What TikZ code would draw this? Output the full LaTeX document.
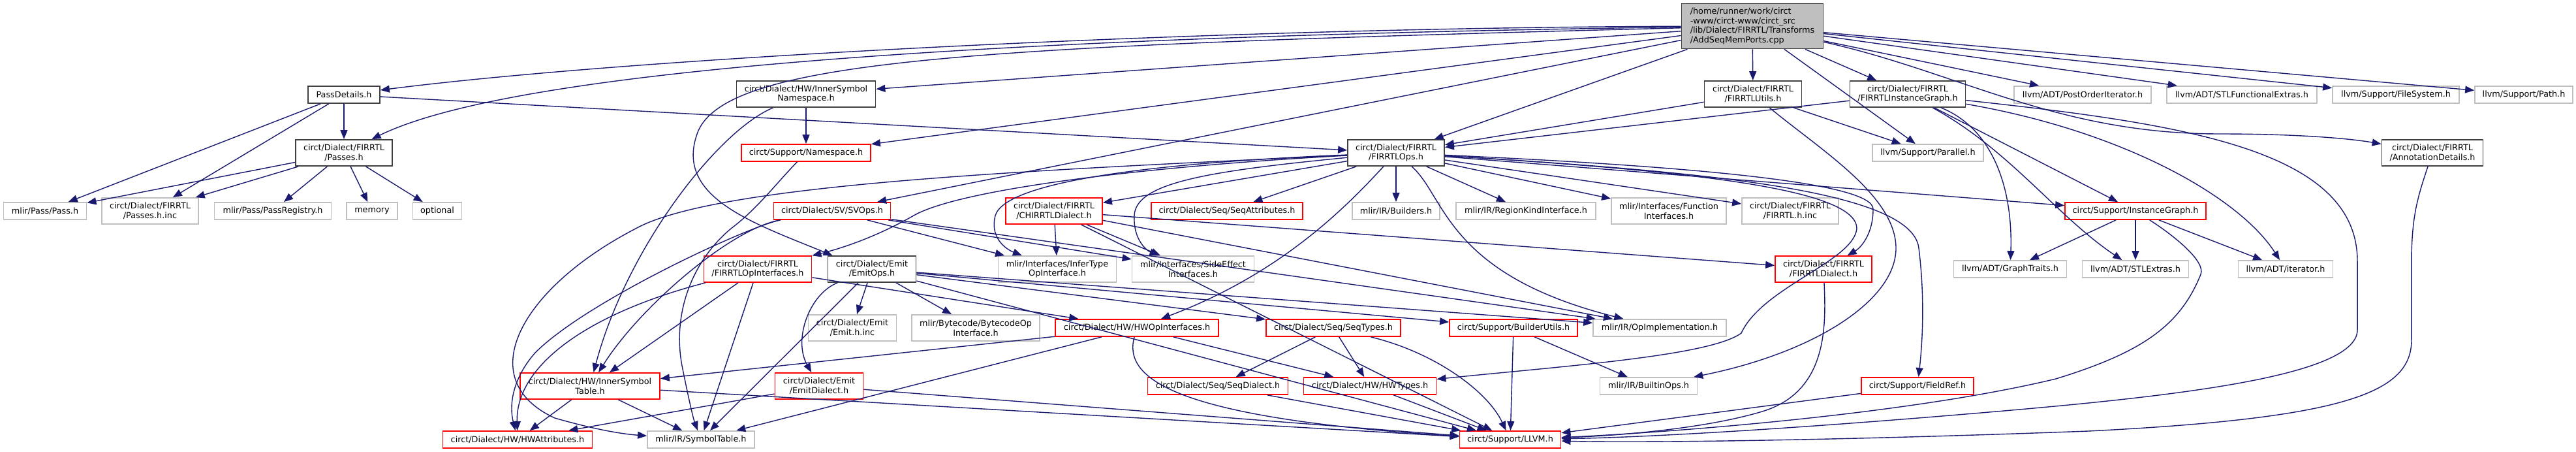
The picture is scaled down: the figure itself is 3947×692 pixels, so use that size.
\documentclass[tikz,border=0pt]{standalone}
\usepackage{fontspec}
\setmainfont{DejaVu Sans}
\usetikzlibrary{arrows.meta}
\definecolor{edgec}{RGB}{25,25,112}
\definecolor{redc}{RGB}{255,0,0}
\definecolor{grayc}{RGB}{191,191,191}
\definecolor{darkc}{RGB}{64,64,64}
\begin{document}
\begin{tikzpicture}[x=1pt,y=-1pt,
  box/.style={rectangle, line width=1.8pt, inner sep=0pt, align=center, font=\fontsize{12.8}{14.7}\selectfont, minimum height=26pt},
  two/.style={minimum height=40pt},
  doc/.style={box, draw=darkc},
  inc/.style={box, draw=redc},
  ext/.style={box, draw=grayc},
  dep/.style={draw=edgec, line width=1.4pt, -{Triangle[length=14pt,width=11pt]}}]
\useasboundingbox (0,0) rectangle (3947,692);
% row 1
\node[box, draw=darkc, fill=grayc, minimum width=217pt, minimum height=69pt, align=left] (top) at (2685,40) {/home/runner/work/circt\\-www/circt-www/circt\_src\\/lib/Dialect/FIRRTL/Transforms\\/AddSeqMemPorts.cpp};
% row 2
\node[doc, minimum width=110pt] (pd) at (527,145) {PassDetails.h};
\node[doc, two, minimum width=213pt] (isn) at (1235,144) {circt/Dialect/HW/InnerSymbol\\Namespace.h};
\node[doc, two, minimum width=149pt] (utl) at (2686,144) {circt/Dialect/FIRRTL\\/FIRRTLUtils.h};
\node[doc, two, minimum width=177pt] (fig) at (2923,144) {circt/Dialect/FIRRTL\\/FIRRTLInstanceGraph.h};
\node[ext, minimum width=210pt] (poi) at (3191,145) {llvm/ADT/PostOrderIterator.h};
\node[ext, minimum width=230pt] (stlf) at (3435,145) {llvm/ADT/STLFunctionalExtras.h};
\node[ext, minimum width=194pt] (fs) at (3671,145) {llvm/Support/FileSystem.h};
\node[ext, minimum width=150pt] (path) at (3867,145) {llvm/Support/Path.h};
% row 3
\node[doc, two, minimum width=148pt] (pas) at (527,234) {circt/Dialect/FIRRTL\\/Passes.h};
\node[inc, minimum width=198pt] (ns) at (1235,234) {circt/Support/Namespace.h};
\node[doc, two, minimum width=148pt] (ops) at (2139,234) {circt/Dialect/FIRRTL\\/FIRRTLOps.h};
\node[ext, minimum width=170pt] (par) at (2954,234) {llvm/Support/Parallel.h};
\node[doc, two, minimum width=155pt] (ann) at (3727,234) {circt/Dialect/FIRRTL\\/AnnotationDetails.h};
% row 4
\node[ext, minimum width=127pt] (pass) at (69,323) {mlir/Pass/Pass.h};
\node[ext, two, minimum width=148pt] (pinc) at (230,323) {circt/Dialect/FIRRTL\\/Passes.h.inc};
\node[ext, minimum width=179pt] (preg) at (418,323) {mlir/Pass/PassRegistry.h};
\node[ext, minimum width=78pt] (mem) at (570,323) {memory};
\node[ext, minimum width=75pt] (opt) at (670,323) {optional};
\node[inc, minimum width=179pt] (sv) at (1275,323) {circt/Dialect/SV/SVOps.h};
\node[inc, two, minimum width=148pt] (chi) at (1615,323) {circt/Dialect/FIRRTL\\/CHIRRTLDialect.h};
\node[inc, minimum width=232pt] (sqa) at (1880,323) {circt/Dialect/Seq/SeqAttributes.h};
\node[ext, minimum width=134pt] (bld) at (2139,323) {mlir/IR/Builders.h};
\node[ext, minimum width=214pt] (rki) at (2338,323) {mlir/IR/RegionKindInterface.h};
\node[ext, two, minimum width=176pt] (fni) at (2557,323) {mlir/Interfaces/Function\\Interfaces.h};
\node[ext, two, minimum width=148pt] (finc) at (2743,323) {circt/Dialect/FIRRTL\\/FIRRTL.h.inc};
\node[inc, minimum width=216pt] (ig) at (3272,323) {circt/Support/InstanceGraph.h};
% row 5
\node[inc, two, minimum width=165pt] (opi) at (1161,412) {circt/Dialect/FIRRTL\\/FIRRTLOpInterfaces.h};
\node[doc, two, minimum width=135pt] (eops) at (1336,412) {circt/Dialect/Emit\\/EmitOps.h};
\node[ext, two, minimum width=181pt] (inf) at (1620,412) {mlir/Interfaces/InferType\\OpInterface.h};
\node[ext, two, minimum width=187pt] (se) at (1828,412) {mlir/Interfaces/SideEffect\\Interfaces.h};
\node[inc, two, minimum width=148pt] (fd) at (2794,412) {circt/Dialect/FIRRTL\\/FIRRTLDialect.h};
\node[ext, minimum width=173pt] (gt) at (3080,412) {llvm/ADT/GraphTraits.h};
\node[ext, minimum width=163pt] (stle) at (3272,412) {llvm/ADT/STLExtras.h};
\node[ext, minimum width=145pt] (it) at (3502,412) {llvm/ADT/iterator.h};
% row 6
\node[ext, two, minimum width=135pt] (einc) at (1306,502) {circt/Dialect/Emit\\/Emit.h.inc};
\node[ext, two, minimum width=196pt] (bc) at (1495,502) {mlir/Bytecode/BytecodeOp\\Interface.h};
\node[inc, minimum width=250pt] (hwoi) at (1742,502) {circt/Dialect/HW/HWOpInterfaces.h};
\node[inc, minimum width=206pt] (sqt) at (2043,502) {circt/Dialect/Seq/SeqTypes.h};
\node[inc, minimum width=196pt] (bu) at (2319,502) {circt/Support/BuilderUtils.h};
\node[ext, minimum width=204pt] (opimpl) at (2543,502) {mlir/IR/OpImplementation.h};
% row 7
\node[inc, two, minimum width=214pt] (ist) at (904,591) {circt/Dialect/HW/InnerSymbol\\Table.h};
\node[inc, two, minimum width=135pt] (ed) at (1255,591) {circt/Dialect/Emit\\/EmitDialect.h};
\node[inc, minimum width=215pt] (sqd) at (1866,591) {circt/Dialect/Seq/SeqDialect.h};
\node[inc, minimum width=203pt] (hwt) at (2099,591) {circt/Dialect/HW/HWTypes.h};
\node[ext, minimum width=149pt] (bops) at (2526,591) {mlir/IR/BuiltinOps.h};
\node[inc, minimum width=172pt] (fr) at (2938,591) {circt/Support/FieldRef.h};
% row 8
\node[inc, minimum width=229pt] (hwa) at (793,673) {circt/Dialect/HW/HWAttributes.h};
\node[ext, minimum width=164pt] (st) at (1074,673) {mlir/IR/SymbolTable.h};
\node[inc, minimum width=155pt] (llvm) at (2314,673) {circt/Support/LLVM.h};
% straight edges
\foreach \s/\t in {top/isn, top/ns, top/sv, top/ops, top/utl, top/fig, top/par, top/poi, top/stlf, top/fs, top/path,
  pd/pass, pd/pinc, pd/pas, pd/ops,
  pas/pass, pas/pinc, pas/preg, pas/mem, pas/opt,
  isn/ns,
  utl/ops, utl/par,
  fig/ops, fig/ig, ig/gt, ig/stle, ig/it,
  ops/chi, ops/sqa, ops/bld, ops/rki, ops/fni, ops/finc, ops/ig,
  sv/inf, sv/se, sv/opimpl,
  chi/inf, chi/se, chi/opimpl, chi/fd, chi/llvm,
  opi/ist, opi/st, opi/hwoi,
  eops/einc, eops/bc, eops/st, eops/opimpl, eops/sqt, eops/bu, eops/llvm,
  hwoi/ist, hwoi/st, hwoi/hwt,
  sqt/sqd, sqt/hwt,
  ist/hwa, ist/st, ist/llvm,
  ed/hwa, ed/llvm,
  sqd/llvm, hwt/llvm, bu/llvm, bu/bops, fr/llvm}
  {\draw[dep] (\s) -- (\t);}
% curved edges
\draw[dep] (top) .. controls (1900,42) and (1000,85) .. (pd);
\draw[dep] (top) .. controls (1600,55) and (800,100) .. (pas);
\draw[dep] (top) .. controls (1500,70) and (1120,90) .. (1070,200) .. controls (1030,300) and (1150,340) .. ([xshift=8pt]eops.north west);
\draw[dep] (top) .. controls (3000,110) and (3150,205) .. (3400,205) .. controls (3520,205) and (3600,212) .. (ann);
\draw[dep] (isn) .. controls (1100,200) and (960,380) .. (ist);
\draw[dep] (ns) .. controls (1190,280) and (1160,320) .. (1120,350) .. controls (1060,400) and (1030,480) .. (1045,560) .. controls (1055,610) and (1062,640) .. (st);
\draw[dep] (utl) .. controls (2790,230) and (2905,300) .. (2905,380) .. controls (2905,460) and (2780,540) .. (bops);
\draw[dep] (fig) .. controls (3350,190) and (3612,230) .. (3612,400) -- (3612,505) .. controls (3612,580) and (3300,610) .. (3000,635) .. controls (2700,660) and (2500,670) .. (llvm);
\draw[dep] (fig) .. controls (3060,200) and (3084,300) .. (gt);
\draw[dep] (fig) .. controls (3080,230) and (3150,330) .. (stle);
\draw[dep] (fig) .. controls (3250,200) and (3430,300) .. (it);
\draw[dep] (ig) .. controls (3330,360) and (3380,400) .. (3372,420) .. controls (3340,500) and (3280,540) .. (3150,580) .. controls (2900,640) and (2500,665) .. (llvm);
\draw[dep] (ann) .. controls (3705,300) and (3695,330) .. (3695,400) -- (3695,520) .. controls (3695,600) and (3600,640) .. (3200,660) .. controls (2800,675) and (2500,678) .. (llvm);
\draw[dep] (ops) .. controls (1750,255) and (1470,290) .. (1400,330) .. controls (1330,370) and (1270,385) .. (opi);
\draw[dep] (ops) .. controls (1750,250) and (1540,280) .. (1525,330) .. controls (1515,370) and (1550,385) .. (inf);
\draw[dep] (ops) .. controls (1850,262) and (1740,280) .. (1738,330) .. controls (1736,370) and (1760,385) .. (se);
\draw[dep] (ops) .. controls (2060,320) and (1960,420) .. (hwoi);
\draw[dep] (ops) .. controls (2215,300) and (2215,420) .. (opimpl);
\draw[dep] (ops) .. controls (1600,260) and (1100,280) .. (974,350) .. controls (800,440) and (720,580) .. (850,640) .. controls (920,660) and (960,665) .. (st);
\draw[dep] (ops) .. controls (2600,255) and (2870,280) .. (2870,320) .. controls (2870,360) and (2850,380) .. (fd);
\draw[dep] (ops) .. controls (2600,262) and (2930,290) .. (2940,380) .. controls (2950,460) and (2945,530) .. (fr);
\draw[dep] (ops) .. controls (2600,262) and (2845,290) .. (2845,350) .. controls (2840,400) and (2700,440) .. (2668,510) .. controls (2620,545) and (2400,560) .. (hwt);
\draw[dep] (sv) .. controls (1120,350) and (980,470) .. (ist);
\draw[dep] (sv) .. controls (1150,345) and (900,460) .. (820,540) .. controls (785,580) and (780,620) .. (hwa);
\draw[dep] (opi) .. controls (900,480) and (790,560) .. (hwa);
\draw[dep] (eops) .. controls (1240,450) and (1215,520) .. (ed);
\draw[dep] (hwoi) .. controls (1720,580) and (1800,640) .. (llvm);
\draw[dep] (sqt) .. controls (2200,540) and (2280,600) .. (llvm);
\draw[dep] (fd) .. controls (2798,500) and (2800,600) .. (2700,630) .. controls (2600,660) and (2450,668) .. (llvm);
\end{tikzpicture}
\end{document}
